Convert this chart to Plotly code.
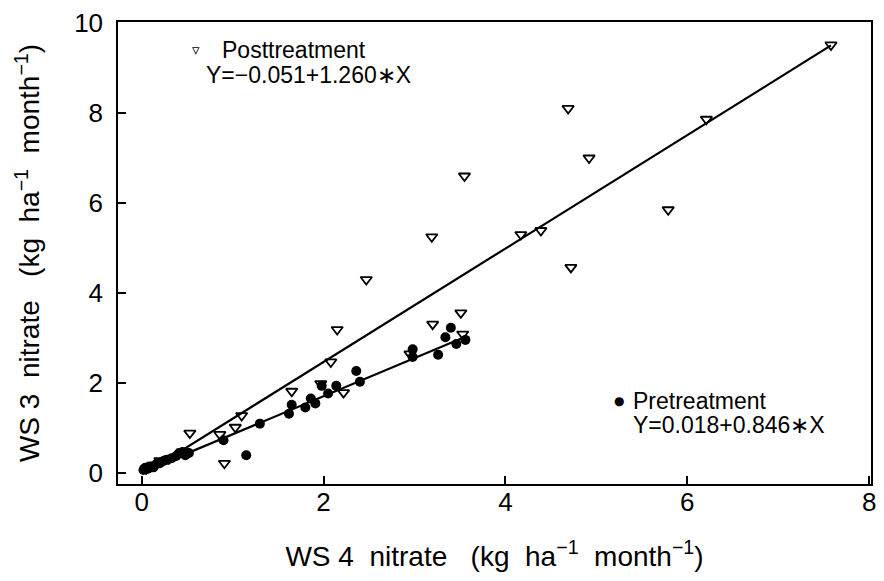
import numpy as np
import plotly.graph_objects as go

# Pretreatment (WS4 nitrate, WS3 nitrate)
pre_x = [0.02, 0.04, 0.07, 0.10, 0.13, 0.16, 0.20, 0.24, 0.28, 0.33, 0.38, 0.41, 0.45, 0.48, 0.52,
         0.90, 1.15, 1.30, 1.62, 1.65, 1.80, 1.86, 1.91, 1.98, 2.05, 2.14, 2.36, 2.40,
         2.98, 2.98, 3.26, 3.34, 3.40, 3.46, 3.56]
pre_y = [0.07, 0.12, 0.10, 0.15, 0.13, 0.20, 0.22, 0.27, 0.30, 0.33, 0.38, 0.44, 0.47, 0.40, 0.45,
         0.73, 0.40, 1.10, 1.32, 1.52, 1.46, 1.66, 1.55, 1.94, 1.77, 1.94, 2.27, 2.03,
         2.75, 2.58, 2.63, 3.02, 3.23, 2.87, 2.96]

# Posttreatment
post_x = [0.05, 0.12, 0.20, 0.30, 0.45, 0.53, 0.86, 0.91, 1.03, 1.10, 1.65, 1.97, 2.08, 2.15,
          2.22, 2.47, 2.95, 3.20, 3.19, 3.51, 3.53, 3.55, 4.17, 4.39, 4.69, 4.72, 4.92,
          5.79, 6.21, 7.58]
post_y = [0.10, 0.18, 0.28, 0.32, 0.48, 0.89, 0.86, 0.22, 1.02, 1.28, 1.82, 1.99, 2.47, 3.19,
          1.79, 4.30, 2.65, 3.31, 5.25, 3.56, 3.09, 6.60, 5.30, 5.39, 8.10, 4.57, 7.00,
          5.85, 7.86, 9.51]

pre_coef = (0.018, 0.846)
post_coef = (-0.051, 1.260)

x_ticks = [0, 2, 4, 6, 8]
y_ticks = [0, 2, 4, 6, 8, 10]

FONT = "Liberation Sans"

fig = go.Figure()

px_line = np.array([min(pre_x), max(pre_x)])
fig.add_trace(go.Scatter(x=px_line, y=pre_coef[0] + pre_coef[1] * px_line, mode="lines",
                         line=dict(color="black", width=2.2), showlegend=False, hoverinfo="skip"))
qx_line = np.array([min(post_x), max(post_x)])
fig.add_trace(go.Scatter(x=qx_line, y=post_coef[0] + post_coef[1] * qx_line, mode="lines",
                         line=dict(color="black", width=2.2), showlegend=False, hoverinfo="skip"))

fig.add_trace(go.Scatter(x=pre_x, y=pre_y, mode="markers", name="Pretreatment",
                         marker=dict(symbol="circle", size=10, color="black"), showlegend=False))
fig.add_trace(go.Scatter(x=post_x, y=post_y, mode="markers", name="Posttreatment",
                         marker=dict(symbol="triangle-down-open", size=10, color="black",
                                     line=dict(width=1.8, color="black")), showlegend=False))

ann_font = dict(family=FONT, size=23, color="black")
fig.add_annotation(xref="paper", yref="paper", x=0.096, y=0.94, xanchor="left", yanchor="middle",
                   text="\u25BF", showarrow=False, font=dict(family="DejaVu Sans", size=15, color="black"))
fig.add_annotation(xref="paper", yref="paper", x=0.135, y=0.94, xanchor="left", yanchor="middle",
                   text="Posttreatment", showarrow=False, font=ann_font)
fig.add_annotation(xref="paper", yref="paper", x=0.114, y=0.885, xanchor="left", yanchor="middle",
                   text="Y=\u22120.051+1.260\u2217X", showarrow=False, font=ann_font)
fig.add_annotation(xref="paper", yref="paper", x=0.656, y=0.180, xanchor="left", yanchor="middle",
                   text="\u25CF", showarrow=False, font=dict(family="DejaVu Sans", size=12, color="black"))
fig.add_annotation(xref="paper", yref="paper", x=0.681, y=0.180, xanchor="left", yanchor="middle",
                   text="Pretreatment", showarrow=False, font=ann_font)
fig.add_annotation(xref="paper", yref="paper", x=0.681, y=0.128, xanchor="left", yanchor="middle",
                   text="Y=0.018+0.846\u2217X", showarrow=False, font=ann_font)

axis_common = dict(showgrid=False, zeroline=False, showline=True, linecolor="black", linewidth=1.5,
                   mirror=True, ticks="inside", ticklen=8, tickwidth=1.5, tickcolor="black",
                   tickfont=dict(family=FONT, size=26, color="black"))

fig.update_xaxes(range=[-0.26, 8.02], tickvals=x_ticks, ticktext=[str(v) for v in x_ticks],
                 ticklabelstandoff=-6,
                 title=dict(text="WS 4  nitrate   (kg  ha<sup>\u22121</sup>  month<sup>\u22121</sup>)",
                            font=dict(family=FONT, size=28, color="black"), standoff=30),
                 **axis_common)
fig.update_yaxes(range=[-0.24, 10.02], tickvals=y_ticks, ticktext=[str(v) for v in y_ticks],
                 ticklabelstandoff=8,
                 title=dict(text="WS 3  nitrate   (kg  ha<sup>\u22121</sup>  month<sup>\u22121</sup>)",
                            font=dict(family=FONT, size=28, color="black"), standoff=26),
                 **axis_common)

fig.update_layout(width=884, height=581, margin=dict(l=118, r=8, t=19, b=97),
                  plot_bgcolor="white", paper_bgcolor="white", showlegend=False)

fig.write_html("out.html")
